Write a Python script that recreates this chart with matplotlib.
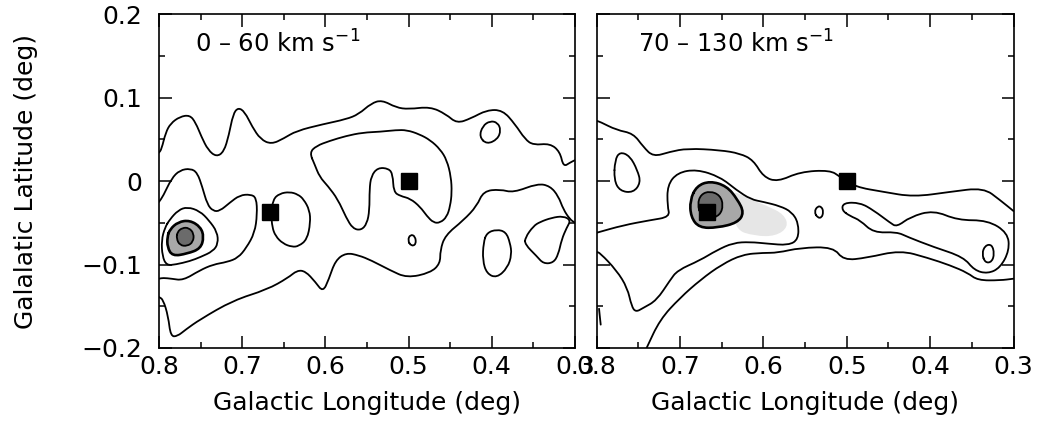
import matplotlib
matplotlib.use("Agg")
import matplotlib.pyplot as plt
from matplotlib.path import Path
from matplotlib.patches import PathPatch
from matplotlib.ticker import MultipleLocator, FuncFormatter

# contour lines, (longitude, latitude) in deg
# ---- left map, 0-60 km/s
left_lvl1_top = [(0.8, 0.034), (0.797, 0.038), (0.792, 0.058), (0.786, 0.069), (0.775, 0.077),
                 (0.763, 0.079), (0.756, 0.07), (0.749, 0.053), (0.741, 0.037), (0.731, 0.029),
                 (0.722, 0.035), (0.716, 0.055), (0.711, 0.08), (0.705, 0.088), (0.697, 0.083),
                 (0.688, 0.065), (0.678, 0.05), (0.665, 0.044), (0.65, 0.051), (0.635, 0.06),
                 (0.603, 0.068), (0.575, 0.074), (0.56, 0.08), (0.545, 0.093), (0.532, 0.097),
                 (0.515, 0.088), (0.5, 0.086), (0.474, 0.089), (0.455, 0.08), (0.442, 0.069),
                 (0.425, 0.075), (0.406, 0.085), (0.387, 0.085), (0.372, 0.068), (0.36, 0.05),
                 (0.35, 0.043), (0.33, 0.045), (0.318, 0.035), (0.314, 0.017), (0.306, 0.022),
                 (0.3, 0.025)]
left_lvl1_bottom = [(0.8, -0.139), (0.795, -0.142), (0.789, -0.162), (0.786, -0.186), (0.778, -0.186),
                    (0.768, -0.178), (0.751, -0.166), (0.711, -0.143), (0.67, -0.13), (0.645, -0.116),
                    (0.634, -0.107), (0.624, -0.108), (0.612, -0.121), (0.603, -0.133), (0.596, -0.118),
                    (0.588, -0.095), (0.575, -0.086), (0.56, -0.089), (0.545, -0.095), (0.522, -0.107),
                    (0.502, -0.116), (0.474, -0.11), (0.462, -0.099), (0.462, -0.083), (0.456, -0.065),
                    (0.434, -0.047), (0.418, -0.03), (0.41, -0.012), (0.39, -0.01), (0.374, -0.014),
                    (0.345, -0.003), (0.33, -0.006), (0.32, -0.018), (0.314, -0.034), (0.306, -0.046),
                    (0.3, -0.05)]
left_lvl1_isle = [(0.406, -0.062), (0.394, -0.058), (0.383, -0.061), (0.378, -0.074), (0.376, -0.088),
                  (0.381, -0.104), (0.394, -0.116), (0.406, -0.111), (0.411, -0.095), (0.41, -0.074),
                  (0.406, -0.062)]
left_lvl1_lobe = [(0.36, -0.068), (0.35, -0.054), (0.342, -0.049), (0.328, -0.044), (0.314, -0.042),
                  (0.305, -0.047), (0.31, -0.056), (0.316, -0.07), (0.32, -0.088), (0.326, -0.098),
                  (0.338, -0.099), (0.346, -0.09), (0.36, -0.076), (0.36, -0.068)]
left_lvl2_peak = [(0.8, -0.025), (0.795, -0.018), (0.785, 0.003), (0.775, 0.013), (0.762, 0.015),
                  (0.754, 0.01), (0.748, -0.007), (0.742, -0.028), (0.735, -0.036), (0.727, -0.036),
                  (0.715, -0.026), (0.703, -0.017), (0.69, -0.016), (0.683, -0.02), (0.682, -0.04),
                  (0.685, -0.062), (0.695, -0.08), (0.705, -0.092), (0.718, -0.097), (0.735, -0.1),
                  (0.751, -0.107), (0.771, -0.119), (0.785, -0.117), (0.795, -0.116), (0.8, -0.117)]
left_lvl2_cloud = [(0.619, 0.034), (0.611, 0.042), (0.595, 0.048), (0.575, 0.054), (0.555, 0.058),
                   (0.534, 0.059), (0.515, 0.061), (0.502, 0.061), (0.487, 0.056), (0.474, 0.049),
                   (0.462, 0.038), (0.454, 0.025), (0.449, 0.005), (0.448, -0.014), (0.45, -0.03),
                   (0.454, -0.043), (0.462, -0.05), (0.47, -0.05), (0.478, -0.042), (0.486, -0.031),
                   (0.498, -0.021), (0.51, -0.018), (0.518, -0.013), (0.519, 0.008), (0.524, 0.015),
                   (0.537, 0.016), (0.545, 0.006), (0.547, -0.01), (0.547, -0.035), (0.55, -0.051),
                   (0.557, -0.059), (0.567, -0.057), (0.575, -0.044), (0.585, -0.022), (0.597, -0.006),
                   (0.607, 0.005), (0.613, 0.02), (0.619, 0.034)]
left_lvl2_src = [(0.663, -0.022), (0.655, -0.015), (0.643, -0.013), (0.633, -0.016), (0.626, -0.022),
                 (0.619, -0.035), (0.618, -0.05), (0.622, -0.07), (0.632, -0.078), (0.64, -0.079),
                 (0.651, -0.075), (0.66, -0.066), (0.664, -0.055), (0.665, -0.04), (0.663, -0.022)]
left_lvl2_knot = [(0.415, 0.053), (0.411, 0.066), (0.402, 0.072), (0.393, 0.07), (0.389, 0.061),
                  (0.393, 0.05), (0.406, 0.044), (0.415, 0.053)]
left_lvl2_dot = [(0.501, -0.071), (0.498, -0.064), (0.492, -0.066), (0.491, -0.076), (0.497, -0.078),
                 (0.501, -0.071)]
left_lvl3 = [(0.787, -0.046), (0.777, -0.035), (0.766, -0.031), (0.751, -0.036), (0.74, -0.047),
             (0.73, -0.061), (0.729, -0.075), (0.735, -0.084), (0.75, -0.091), (0.763, -0.096),
             (0.78, -0.1), (0.791, -0.101), (0.796, -0.09), (0.797, -0.071), (0.793, -0.056),
             (0.787, -0.046)]
left_lvl4 = [(0.787, -0.058), (0.777, -0.049), (0.763, -0.047), (0.75, -0.055), (0.746, -0.067),
             (0.75, -0.081), (0.766, -0.087), (0.784, -0.09), (0.79, -0.079), (0.79, -0.067),
             (0.787, -0.058)]
left_lvl5 = [(0.778, -0.061), (0.772, -0.056), (0.764, -0.056), (0.758, -0.063), (0.759, -0.073),
             (0.766, -0.078), (0.775, -0.077), (0.779, -0.069), (0.778, -0.061)]

# ---- right map, 70-130 km/s
right_lvl1_top = [(0.8, 0.072), (0.796, 0.071), (0.776, 0.061), (0.756, 0.057), (0.744, 0.041),
                  (0.732, 0.029), (0.712, 0.035), (0.691, 0.039), (0.652, 0.037), (0.628, 0.033),
                  (0.612, 0.025), (0.6, 0.005), (0.583, -0.001), (0.556, 0.011), (0.52, 0.013),
                  (0.508, 0.005), (0.49, -0.007), (0.456, -0.013), (0.42, -0.019), (0.376, -0.013),
                  (0.336, -0.008), (0.316, -0.023), (0.3, -0.036)]
right_lvl1_bottom = [(0.74, -0.2), (0.724, -0.166), (0.7, -0.14), (0.675, -0.118), (0.65, -0.1),
                     (0.625, -0.088), (0.6, -0.086), (0.583, -0.086), (0.556, -0.08), (0.516, -0.079),
                     (0.504, -0.095), (0.476, -0.092), (0.436, -0.083), (0.403, -0.092), (0.376, -0.101),
                     (0.355, -0.11), (0.343, -0.119), (0.316, -0.119), (0.3, -0.117)]
right_lvl1_edge = [(0.797, -0.153), (0.796, -0.163), (0.795, -0.172)]
right_lvl2_ridge = [(0.8, -0.085), (0.796, -0.086), (0.776, -0.107), (0.763, -0.128), (0.758, -0.15),
                    (0.753, -0.157), (0.744, -0.152), (0.728, -0.143), (0.712, -0.119), (0.703, -0.107),
                    (0.676, -0.095), (0.656, -0.083), (0.636, -0.074), (0.616, -0.073), (0.595, -0.075),
                    (0.57, -0.077), (0.558, -0.07), (0.558, -0.05), (0.566, -0.037), (0.58, -0.03),
                    (0.6, -0.025), (0.615, -0.022), (0.632, -0.011), (0.652, 0.005), (0.68, 0.014),
                    (0.703, 0.01), (0.715, -0.005), (0.715, -0.03), (0.712, -0.043), (0.736, -0.047),
                    (0.768, -0.053), (0.8, -0.062)]
right_lvl2_isle = [(0.778, 0.025), (0.772, 0.035), (0.76, 0.03), (0.751, 0.013), (0.747, -0.002),
                   (0.756, -0.014), (0.772, -0.012), (0.779, 0.001), (0.778, 0.025)]
right_lvl2_knot = [(0.539, -0.037), (0.535, -0.03), (0.53, -0.031), (0.528, -0.037), (0.53, -0.044),
                   (0.535, -0.044), (0.539, -0.037)]
right_lvl2_tail = [(0.506, -0.035), (0.504, -0.026), (0.484, -0.026), (0.468, -0.035), (0.448, -0.05),
                   (0.44, -0.055), (0.424, -0.043), (0.396, -0.035), (0.367, -0.047), (0.331, -0.047),
                   (0.307, -0.062), (0.305, -0.083), (0.316, -0.104), (0.331, -0.111), (0.347, -0.107),
                   (0.36, -0.091), (0.396, -0.079), (0.427, -0.067), (0.44, -0.061), (0.468, -0.062),
                   (0.484, -0.047), (0.496, -0.042), (0.506, -0.035)]
right_lvl3_tail = [(0.338, -0.087), (0.334, -0.077), (0.326, -0.076), (0.323, -0.087), (0.326, -0.097),
                   (0.334, -0.098), (0.338, -0.087)]
right_stipple = [(0.64, -0.01), (0.62, -0.02), (0.595, -0.03), (0.575, -0.04), (0.57, -0.055),
                 (0.585, -0.066), (0.61, -0.066), (0.635, -0.058), (0.64, -0.01)]
right_lvl4 = [(0.68, -0.006), (0.664, 0.0), (0.644, -0.006), (0.631, -0.022), (0.623, -0.038),
              (0.631, -0.05), (0.655, -0.056), (0.677, -0.056), (0.687, -0.043), (0.688, -0.023),
              (0.68, -0.006)]
right_lvl5 = [(0.679, -0.028), (0.675, -0.016), (0.664, -0.012), (0.652, -0.017), (0.648, -0.029),
              (0.652, -0.041), (0.664, -0.045), (0.675, -0.041), (0.679, -0.028)]

# black squares: (longitude, latitude)
src_l = [0.667, 0.5]
src_b = [-0.037, 0.0]

panel_titles = ["0 \u2013 60 km s$^{-1}$", "70 \u2013 130 km s$^{-1}$"]


def smooth(pts):
    # quadratic b-spline through the read vertices (drawing only)
    closed = pts[0] == pts[-1]
    p = pts[:-1] if closed else pts
    n = len(p)
    mid = [((p[i][0] + p[(i + 1) % n][0]) / 2, (p[i][1] + p[(i + 1) % n][1]) / 2) for i in range(n)]
    if closed:
        verts, codes = [mid[-1]], [Path.MOVETO]
        for i in range(n):
            verts += [p[i], mid[i]]
            codes += [Path.CURVE3, Path.CURVE3]
    else:
        verts, codes = [p[0], mid[0]], [Path.MOVETO, Path.LINETO]
        for i in range(1, n - 1):
            verts += [p[i], mid[i]]
            codes += [Path.CURVE3, Path.CURVE3]
        verts.append(p[-1])
        codes.append(Path.LINETO)
    return Path(verts, codes)


def trace(ax, pts, lw=1.3):
    ax.add_patch(PathPatch(smooth(pts), fill=False, edgecolor="black", lw=lw,
                           joinstyle="round", capstyle="round", zorder=3))


def shade(ax, pts, grey):
    ax.add_patch(PathPatch(smooth(pts), facecolor=grey, lw=0, zorder=2))


def yfmt(v, pos):
    if abs(v) < 1e-9:
        return "0"
    return ("%.1f" % v).replace("-", "\u2212")


plt.rcParams["font.family"] = "DejaVu Sans"
fig = plt.figure(figsize=(10.42, 4.26), dpi=100)
ax1 = fig.add_axes([0.1526, 0.1831, 0.3992, 0.784])
ax2 = fig.add_axes([0.5725, 0.1831, 0.4002, 0.784])

# left map
shade(ax1, left_lvl4, "0.66")
shade(ax1, left_lvl5, "0.42")
for c in [left_lvl1_top, left_lvl1_bottom, left_lvl1_isle, left_lvl1_lobe, left_lvl2_peak,
          left_lvl2_cloud, left_lvl2_src, left_lvl2_knot, left_lvl2_dot, left_lvl3, left_lvl5]:
    trace(ax1, c)
trace(ax1, left_lvl4, lw=1.9)

# right map
shade(ax2, right_stipple, "0.9")
shade(ax2, right_lvl4, "0.66")
shade(ax2, right_lvl5, "0.42")
for c in [right_lvl1_top, right_lvl1_bottom, right_lvl1_edge, right_lvl2_ridge, right_lvl2_isle,
          right_lvl2_knot, right_lvl2_tail, right_lvl3_tail, right_lvl5]:
    trace(ax2, c)
trace(ax2, right_lvl4, lw=1.9)

for i, ax in enumerate([ax1, ax2]):
    ax.plot(src_l, src_b, "s", color="black", ms=11, zorder=5)
    ax.set_xlim(0.8, 0.3)
    ax.set_ylim(-0.2, 0.2)
    ax.xaxis.set_major_locator(MultipleLocator(0.1))
    ax.xaxis.set_minor_locator(MultipleLocator(0.05))
    ax.yaxis.set_major_locator(MultipleLocator(0.1))
    ax.yaxis.set_minor_locator(MultipleLocator(0.05))
    ax.xaxis.set_major_formatter(FuncFormatter(lambda v, p: "%.1f" % v))
    ax.tick_params(which="both", direction="in", top=True, right=True, width=1.1, labelsize=18)
    ax.tick_params(which="major", length=9)
    ax.tick_params(which="minor", length=4.5)
    ax.tick_params(axis="x", pad=5)
    for s in ax.spines.values():
        s.set_linewidth(1.2)
    ax.set_xlabel("Galactic Longitude (deg)", fontsize=18, labelpad=9)
    ax.text(0.087 if i == 0 else 0.1, 0.91, panel_titles[i], transform=ax.transAxes,
            fontsize=17.5, va="center", ha="left")

ax1.yaxis.set_major_formatter(FuncFormatter(yfmt))
ax1.tick_params(axis="y", pad=12)
ax1.set_ylabel("Galalatic Latitude (deg)", fontsize=18)
ax1.yaxis.set_label_coords(-0.29, 0.5)
ax2.tick_params(axis="y", labelleft=False)

fig.savefig("out.png", dpi=100)
